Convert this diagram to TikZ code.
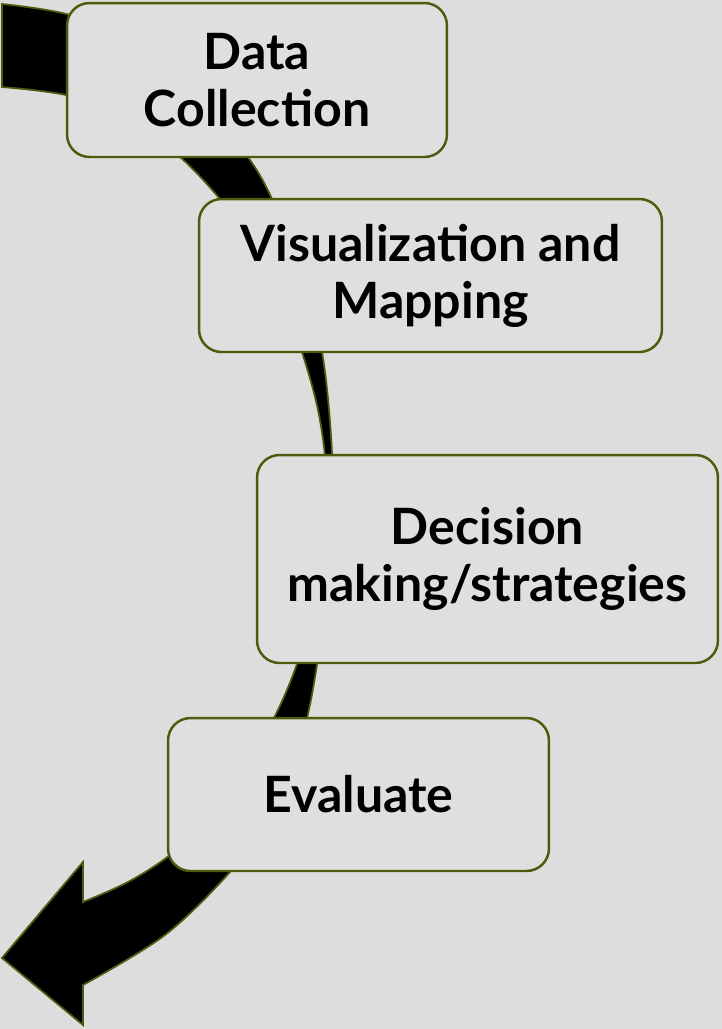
\documentclass[tikz,border=0pt]{standalone}
\usepackage{fontspec}
\setmainfont{Lato}
\definecolor{pagegray}{HTML}{DDDDDD}
\definecolor{boxfill}{HTML}{DFDFDF}
\definecolor{boxline}{HTML}{4F5A0C}

\begin{document}
\begin{tikzpicture}[x=0.02cm,y=-0.02cm,
  stepbox/.style={draw=boxline, line width=1.4pt, fill=boxfill, rounded corners=0.45cm,
    align=center, inner sep=0pt, font=\fontsize{28.5}{32.5}\selectfont\bfseries},
  bigarrow/.style={draw=boxline, line width=1pt, fill=black, line join=miter}]
\fill[pagegray] (0,0) rectangle (722,1029);
\useasboundingbox (0,0) rectangle (722,1029);

% curved arrow behind the steps
\path[bigarrow] (2,4)
  -- plot[smooth, tension=0.55] coordinates {(2,4) (70,15) (140,45) (200,95) (248,157) (272,199) (300,270) (322,352) (332,453) (331,540) (322,630) (307,718) (284,785) (262,827) (230,872) (165,935) (83,985)}
  -- (83,1025) -- (2,958) -- (83,862) -- (83,902)
  -- plot[smooth, tension=0.55] coordinates {(83,902) (128,882) (170,855) (206,820) (240,777) (274,718) (297,664) (313,605) (324,540) (326,470) (318,410) (302,352) (282,297) (255,245) (220,199) (180,157) (130,121) (70,96) (2,87)}
  -- cycle;

\node[stepbox, minimum width=7.6cm, minimum height=3.08cm] (data) at (257,80) {Data\\Collection};
\node[stepbox, minimum width=9.26cm, minimum height=3.06cm] (vis) at (430.5,275.5) {Visualization and\\Mapping};
\node[stepbox, minimum width=9.22cm, minimum height=4.16cm] (decision) at (487.5,559) {Decision\\making/strategies};
\node[stepbox, minimum width=7.62cm, minimum height=3.06cm] (evaluate) at (358.5,794.5) {Evaluate};
\end{tikzpicture}
\end{document}
